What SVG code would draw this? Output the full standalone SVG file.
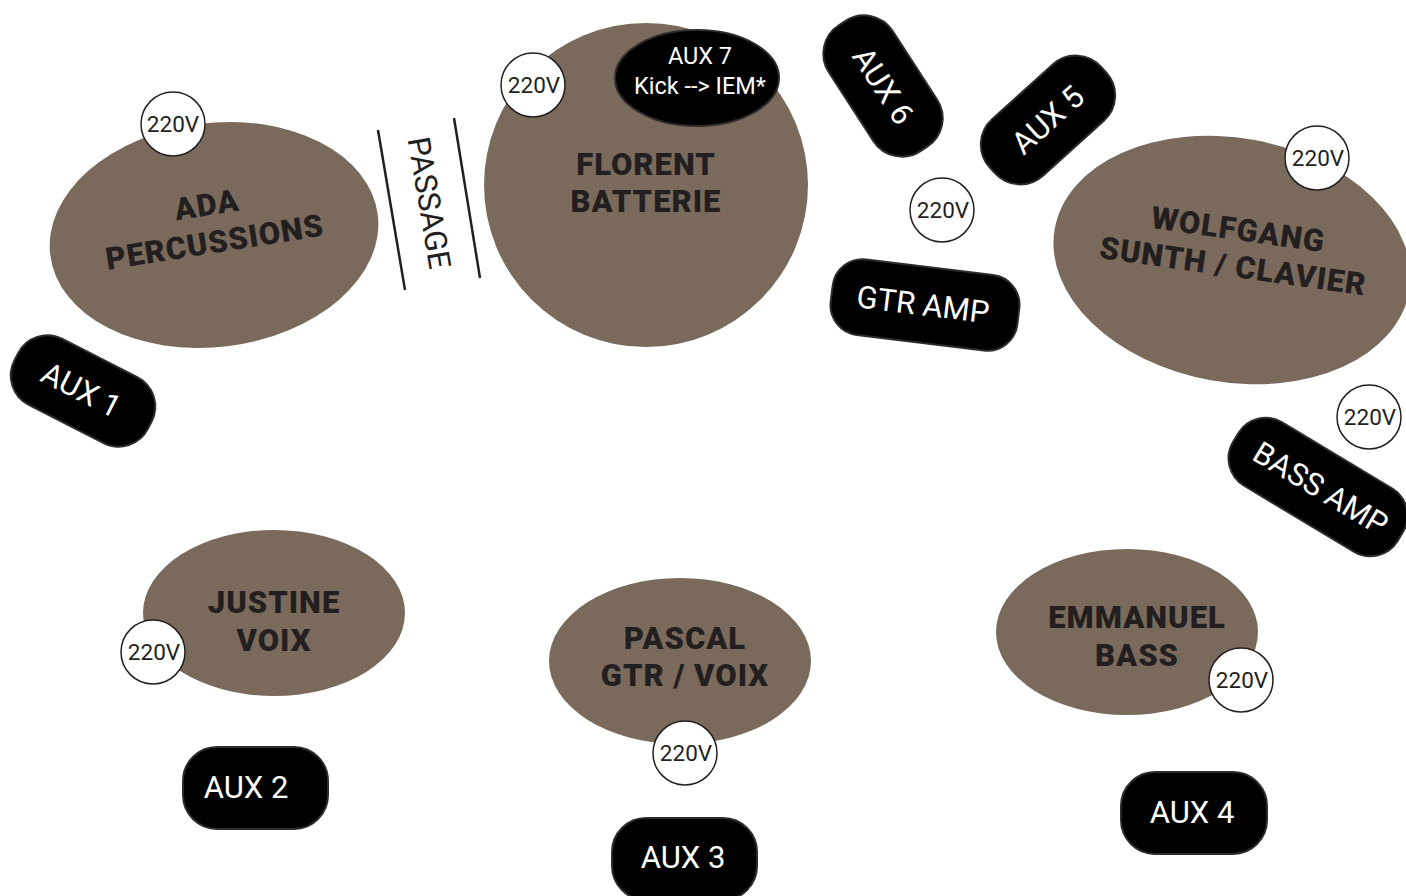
<svg xmlns="http://www.w3.org/2000/svg" width="1406" height="896" viewBox="0 0 1406 896">
<style>
.zone{fill:#7a6a5b}
.name{font-family:Roboto,"Liberation Sans",sans-serif;font-weight:900;font-size:31px;fill:#231f20;text-anchor:middle;letter-spacing:1px}
.pill{fill:#000;stroke:#2e2b2c;stroke-width:2}
.pt{font-family:Roboto,"Liberation Sans",sans-serif;font-size:31px;fill:#fff;text-anchor:middle;dominant-baseline:central}
.plug{fill:#fff;stroke:#231f20;stroke-width:1.5}
.pv{font-family:Roboto,"Liberation Sans",sans-serif;font-size:22.5px;fill:#231f20;text-anchor:middle;dominant-baseline:central}
.line{stroke:#231f20;stroke-width:2.5}
</style>
<rect width="1406" height="896" fill="#fff"/>

<g id="florent">
<circle class="zone" cx="646" cy="185" r="162"/>
<text class="name" x="646" y="175">FLORENT</text>
<text class="name" x="646" y="212">BATTERIE</text>
</g>
<g id="aux7">
<ellipse cx="697" cy="78" rx="82" ry="48" fill="#000" stroke="#2e2b2c" stroke-width="2"/>
<text class="pt" style="font-size:23.5px" x="700" y="56">AUX 7</text>
<text class="pt" style="font-size:23.5px" x="700" y="86">Kick --&gt; IEM*</text>
</g>

<g id="ada">
<ellipse class="zone" cx="214" cy="235" rx="165" ry="112" transform="rotate(-7 214 235)"/>
<g transform="rotate(-9 212 225)">
<text class="name" x="210" y="215">ADA</text>
<text class="name" x="212" y="253">PERCUSSIONS</text>
</g>
</g>

<g id="passage">
<line class="line" x1="378" y1="130" x2="405" y2="290"/>
<line class="line" x1="454" y1="118" x2="480" y2="278"/>
<text transform="translate(429 203) rotate(80.4)" font-family="Roboto,'Liberation Sans',sans-serif" font-size="31" fill="#231f20" text-anchor="middle" dominant-baseline="central">PASSAGE</text>
</g>

<g id="aux1">
<g transform="translate(83 391) rotate(27)">
<rect class="pill" x="-75" y="-37" width="150" height="74" rx="33"/>
<text class="pt" x="-2" y="0">AUX 1</text>
</g>
</g>

<g id="wolfgang">
<ellipse class="zone" cx="1232" cy="260" rx="180" ry="122" transform="rotate(10 1232 260)"/>
<g transform="rotate(8 1236 245)">
<text class="name" x="1236" y="240">WOLFGANG</text>
<text class="name" x="1236" y="277">SUNTH / CLAVIER</text>
</g>
</g>

<g id="aux6">
<g transform="translate(883 86) rotate(57)">
<rect class="pill" x="-75" y="-38" width="150" height="76" rx="34"/>
<text class="pt" x="0" y="0">AUX 6</text>
</g>
</g>
<g id="aux5">
<g transform="translate(1048 120) rotate(-42)">
<rect class="pill" x="-75" y="-38" width="150" height="76" rx="34"/>
<text class="pt" x="0" y="0">AUX 5</text>
</g>
</g>
<g id="gtramp">
<g transform="translate(925 305) rotate(7)">
<rect class="pill" x="-94" y="-38" width="188" height="76" rx="30"/>
<text class="pt" x="-2" y="0">GTR AMP</text>
</g>
</g>
<g id="bassamp">
<g transform="translate(1318 487) rotate(31)">
<rect class="pill" x="-96" y="-37" width="192" height="74" rx="32"/>
<text class="pt" x="3" y="0">BASS AMP</text>
</g>
</g>

<g id="justine">
<ellipse class="zone" cx="274" cy="613" rx="131" ry="83"/>
<text class="name" x="274" y="613">JUSTINE</text>
<text class="name" x="274" y="651">VOIX</text>
</g>
<g id="pascal">
<ellipse class="zone" cx="680" cy="661" rx="131" ry="83"/>
<text class="name" x="685" y="649">PASCAL</text>
<text class="name" x="685" y="686">GTR / VOIX</text>
</g>
<g id="emmanuel">
<ellipse class="zone" cx="1127" cy="632" rx="131" ry="83"/>
<text class="name" x="1137" y="628">EMMANUEL</text>
<text class="name" x="1137" y="666">BASS</text>
</g>

<g id="aux2">
<rect class="pill" x="183" y="747" width="145" height="82" rx="34"/>
<text class="pt" x="246" y="787">AUX 2</text>
</g>
<g id="aux3">
<rect class="pill" x="612" y="818" width="145" height="82" rx="34"/>
<text class="pt" x="683" y="857">AUX 3</text>
</g>
<g id="aux4">
<rect class="pill" x="1121" y="772" width="146" height="82" rx="34"/>
<text class="pt" x="1192" y="812">AUX 4</text>
</g>

<g id="p1"><circle class="plug" cx="173" cy="124" r="32"/><text class="pv" x="173" y="124">220V</text></g>
<g id="p2"><circle class="plug" cx="533" cy="85" r="32"/><text class="pv" x="534" y="85">220V</text></g>
<g id="p3"><circle class="plug" cx="942" cy="210" r="32"/><text class="pv" x="943" y="210">220V</text></g>
<g id="p4"><circle class="plug" cx="1317" cy="158" r="32"/><text class="pv" x="1318" y="158">220V</text></g>
<g id="p5"><circle class="plug" cx="1369" cy="417" r="32"/><text class="pv" x="1370" y="417">220V</text></g>
<g id="p6"><circle class="plug" cx="153" cy="652" r="32"/><text class="pv" x="154" y="652">220V</text></g>
<g id="p7"><circle class="plug" cx="685" cy="753" r="32"/><text class="pv" x="686" y="753">220V</text></g>
<g id="p8"><circle class="plug" cx="1241" cy="680" r="32"/><text class="pv" x="1242" y="680">220V</text></g>
<g id="connectors"></g>
</svg>
